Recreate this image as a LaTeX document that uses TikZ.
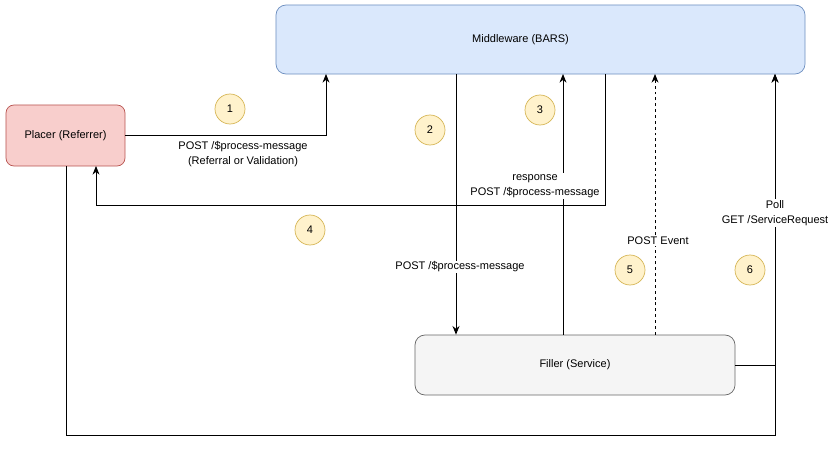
\documentclass[tikz,border=0pt]{standalone}
\usepackage{fontspec}
\setmainfont{Liberation Sans}
\usetikzlibrary{arrows.meta, positioning}
\definecolor{mwfill}{HTML}{DAE8FC}
\definecolor{mwline}{HTML}{6C8EBF}
\definecolor{plfill}{HTML}{F8CECC}
\definecolor{plline}{HTML}{B85450}
\definecolor{flfill}{HTML}{F5F5F5}
\definecolor{flline}{HTML}{666666}
\definecolor{bgfill}{HTML}{FFF2CC}
\definecolor{bgline}{HTML}{D6B656}

\begin{document}
\begin{tikzpicture}[
    x=0.03cm, y=-0.03cm,
    every node/.style={font=\fontsize{9.4}{12.8}\selectfont},
    box/.style={draw, rounded corners=0.3cm, align=center, line width=0.6pt, inner sep=0pt},
    badge/.style={circle, draw=bgline, fill=bgfill, minimum size=0.9cm, inner sep=0pt, line width=0.6pt},
    arrow/.style={-{Stealth[length=2.6mm, width=2.1mm]}, line width=0.75pt},
    lbl/.style={align=center, fill=white, inner sep=1pt}
]
\useasboundingbox (0,0) rectangle (833,449);

% --- Actors ---
\node[box, fill=mwfill, draw=mwline, minimum width=15.87cm, minimum height=2.07cm] (mw) at (540.5,39.5) {\hspace*{-1.2cm}Middleware (BARS)};
\node[box, fill=plfill, draw=plline, rounded corners=0.24cm, minimum width=3.57cm, minimum height=1.83cm] (placer) at (65.5,135.5) {Placer (Referrer)};
\node[box, fill=flfill, draw=flline, minimum width=9.6cm, minimum height=1.8cm] (filler) at (575,365) {Filler (Service)};

% --- Attach points on the middleware ---
\coordinate (in1) at (326,74);
\coordinate (out2) at (456,74);
\coordinate (in3) at (563,74);
\coordinate (out4) at (605,74);
\coordinate (in5) at (655,74);
\coordinate (in6) at (775,74);
\coordinate (turn4) at (605,205);
\coordinate (ret4) at (96,166);
\coordinate (poll) at (66,166);
\coordinate (low) at (66,435);

% --- Connectors ---
\draw[arrow] (placer.east) -| (in1);
\draw[arrow] (out2) -- (out2 |- filler.north);
\draw[arrow] (in3 |- filler.north) -- (in3);
\draw[arrow] (out4) -- (turn4) -| (ret4);
\draw[arrow, dash pattern=on 2.5pt off 2.5pt] (in5 |- filler.north) -- (in5);
\draw[arrow] (filler.east) -| (in6);
\draw[arrow] (poll) -- (low) -| (in6);

% --- Labels ---
\node[lbl] (l1) at (243,154) {POST /\$process-message\\(Referral or Validation)};
\node[lbl] (l2) at (460,267) {POST /\$process-message};
\node[lbl] (l3) at (535,186) {response\\POST /\$process-message};
\node[lbl] (l5) at (658,241) {POST Event};
\node[lbl] (l6) at (775,213) {Poll\\GET /ServiceRequest};

% --- Step numbers ---
\node[badge] (s1) at (230,109) {1};
\node[badge] (s2) at (430,130) {2};
\node[badge] (s3) at (540,110) {3};
\node[badge] (s4) at (310,230) {4};
\node[badge] (s5) at (630,270) {5};
\node[badge] (s6) at (750,270) {6};

\end{tikzpicture}
\end{document}
